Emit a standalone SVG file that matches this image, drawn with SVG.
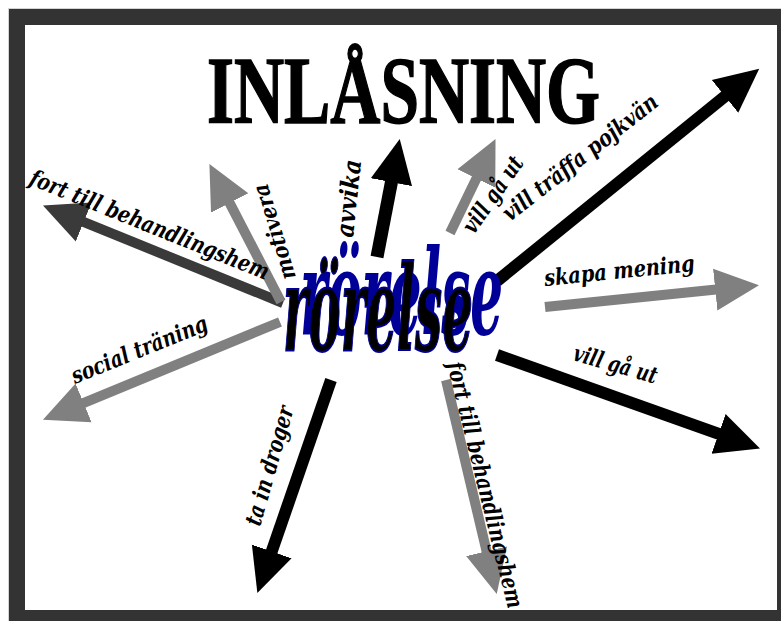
<svg xmlns="http://www.w3.org/2000/svg" width="781" height="621" viewBox="0 0 781 621">
  <style>
    .lbl { font-family: "DejaVu Serif", "Liberation Serif", serif; font-weight: bold; font-style: italic; font-size: 23px; fill: #000; }
    .blk { stroke: #000; }
    .gry { stroke: #808080; }
    .drk { stroke: #3a3a3a; }
    .shaft { fill: none; stroke-linecap: butt; }
    .title { font-family: "Liberation Serif", "Times New Roman", serif; font-weight: bold; font-size: 96px; fill: #000; stroke: #000; stroke-width: 1.5; }
    .word { font-family: "DejaVu Serif", "Liberation Serif", serif; font-weight: bold; font-style: italic; font-size: 118px; }
  </style>
  <defs>
    <marker id="hBlk" markerUnits="userSpaceOnUse" markerWidth="46" markerHeight="44" viewBox="0 -22 46 44" refX="1" refY="0" orient="auto">
      <path d="M0,-21 L44,0 L0,21 Z" fill="#000"/>
    </marker>
    <marker id="hGry" markerUnits="userSpaceOnUse" markerWidth="46" markerHeight="44" viewBox="0 -22 46 44" refX="1" refY="0" orient="auto">
      <path d="M0,-21 L44,0 L0,21 Z" fill="#808080"/>
    </marker>
    <marker id="hDrk" markerUnits="userSpaceOnUse" markerWidth="46" markerHeight="44" viewBox="0 -22 46 44" refX="1" refY="0" orient="auto">
      <path d="M0,-21 L44,0 L0,21 Z" fill="#3a3a3a"/>
    </marker>
  </defs>

  <rect x="0" y="0" width="781" height="621" fill="#fff"/>
  <g id="frame">
    <rect x="8.5" y="8.5" width="800" height="640" fill="#333" stroke="#d4d4d4" stroke-width="1"/>
    <rect x="25" y="25" width="752" height="585" fill="#fff"/>
  </g>

  <g id="connectors">
    <line class="shaft drk" x1="283" y1="303" x2="82.8" y2="221.6" stroke-width="10" marker-end="url(#hDrk)"/>
    <line class="shaft gry" x1="281" y1="302" x2="229.2" y2="202.1" stroke-width="10" marker-end="url(#hGry)"/>
    <line class="shaft blk" x1="377" y1="257" x2="391.6" y2="181.2" stroke-width="13" marker-end="url(#hBlk)"/>
    <line class="shaft gry" x1="450" y1="233" x2="476.8" y2="177.6" stroke-width="10" marker-end="url(#hGry)"/>
    <line class="shaft blk" x1="497" y1="281" x2="725.8" y2="95.7" stroke-width="12" marker-end="url(#hBlk)"/>
    <line class="shaft gry" x1="545" y1="307" x2="716.2" y2="289.5" stroke-width="10" marker-end="url(#hGry)"/>
    <line class="shaft blk" x1="497" y1="355" x2="719.5" y2="434.2" stroke-width="12" marker-end="url(#hBlk)"/>
    <line class="shaft gry" x1="446" y1="380" x2="486.8" y2="552.2" stroke-width="10" marker-end="url(#hGry)"/>
    <line class="shaft blk" x1="331" y1="380" x2="271.4" y2="552.4" stroke-width="12" marker-end="url(#hBlk)"/>
    <line class="shaft gry" x1="280" y1="322" x2="82.7" y2="403.3" stroke-width="10" marker-end="url(#hGry)"/>
  </g>

  <g id="labels">
    <text class="lbl" transform="translate(28,184) rotate(22)" textLength="256" lengthAdjust="spacingAndGlyphs">fort till behandlingshem</text>
    <text class="lbl" style="font-size:22px" transform="translate(296,277) rotate(-107)" textLength="99" lengthAdjust="spacingAndGlyphs">motivera</text>
    <text class="lbl" style="font-size:25px" transform="translate(353,238) rotate(-84)" textLength="78" lengthAdjust="spacingAndGlyphs">avvika</text>
    <text class="lbl" transform="translate(474,235) rotate(-55)" textLength="88" lengthAdjust="spacingAndGlyphs">vill gå ut</text>
    <text class="lbl" transform="translate(510,222) rotate(-38)" textLength="190" lengthAdjust="spacingAndGlyphs">vill träffa pojkvän</text>
    <text class="lbl" transform="translate(545,286) rotate(-5.7)" textLength="151" lengthAdjust="spacingAndGlyphs">skapa mening</text>
    <text class="lbl" transform="translate(572,360) rotate(16)" textLength="86" lengthAdjust="spacingAndGlyphs">vill gå ut</text>
    <text class="lbl" transform="translate(447,364) rotate(76)" textLength="253" lengthAdjust="spacingAndGlyphs">fort till behandlingshem</text>
    <text class="lbl" transform="translate(260,527) rotate(-74)" textLength="123" lengthAdjust="spacingAndGlyphs">ta in droger</text>
    <text class="lbl" transform="translate(75,384) rotate(-22)" textLength="145" lengthAdjust="spacingAndGlyphs">social träning</text>
  </g>

  <g id="title">
    <text class="title" x="207" y="123" textLength="393" lengthAdjust="spacingAndGlyphs">INLÅSNING</text>
  </g>

  <g id="center">
    <text class="word" x="300" y="334" fill="#000099" textLength="203" lengthAdjust="spacingAndGlyphs">rörelse</text>
    <text class="word" x="283" y="350" fill="#000" stroke="#000099" stroke-width="2" textLength="190" lengthAdjust="spacingAndGlyphs">rörelse</text>
  </g>
</svg>
